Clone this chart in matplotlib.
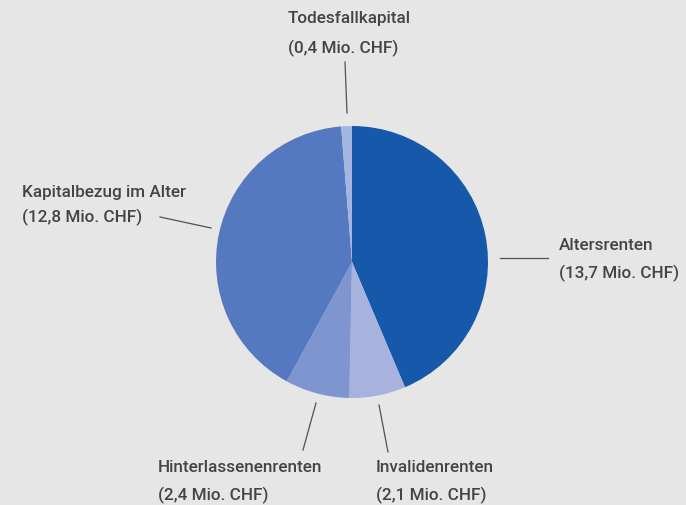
import matplotlib
matplotlib.use("Agg")
from matplotlib import pyplot as plt

# data
names = ["Altersrenten", "Invalidenrenten", "Hinterlassenenrenten",
         "Kapitalbezug im Alter", "Todesfallkapital"]
values = [13.7, 2.1, 2.4, 12.8, 0.4]
colors = ["#1659aa", "#a7b3de", "#7f95cf", "#5479c1", "#a3b5e0"]

# label layout in pixel coords (text left x, line1 y, line2 y)
label_pos = [(559, 245, 273), (376, 467, 495), (158, 467, 495),
             (22, 192, 217), (288, 18, 48)]
leaders = [((500, 258), (548, 258)), ((379, 405), (388, 452)),
           ((316, 403), (303, 450)), ((160, 217), (211, 228)),
           ((345, 62), (347, 113))]

W, H = 686, 505
fig = plt.figure(figsize=(W / 100, H / 100), dpi=100)
fig.patch.set_facecolor("#e6e6e6")
ax = fig.add_axes([0, 0, 1, 1])

ax.pie(values, colors=colors, startangle=90, counterclock=False,
       center=(352, H - 262), radius=136, frame=True,
       wedgeprops=dict(linewidth=0))
ax.set_xlim(0, W)
ax.set_ylim(0, H)
ax.set_aspect("equal")
ax.axis("off")

font = ["Roboto", "DejaVu Sans"]
tc = "#484343"
for name, v, (x, y1, y2), (p0, p1) in zip(names, values, label_pos, leaders):
    ax.text(x, H - y1, name, fontsize=12.3, color=tc, family=font,
            weight="medium", ha="left", va="center")
    ax.text(x, H - y2, "(" + f"{v:.1f}".replace(".", ",") + " Mio. CHF)",
            fontsize=12.3, color=tc, family=font, weight="medium",
            ha="left", va="center")
    ax.plot([p0[0], p1[0]], [H - p0[1], H - p1[1]], color="#555050", lw=0.9)

fig.savefig("out.png", dpi=100, facecolor=fig.get_facecolor())
